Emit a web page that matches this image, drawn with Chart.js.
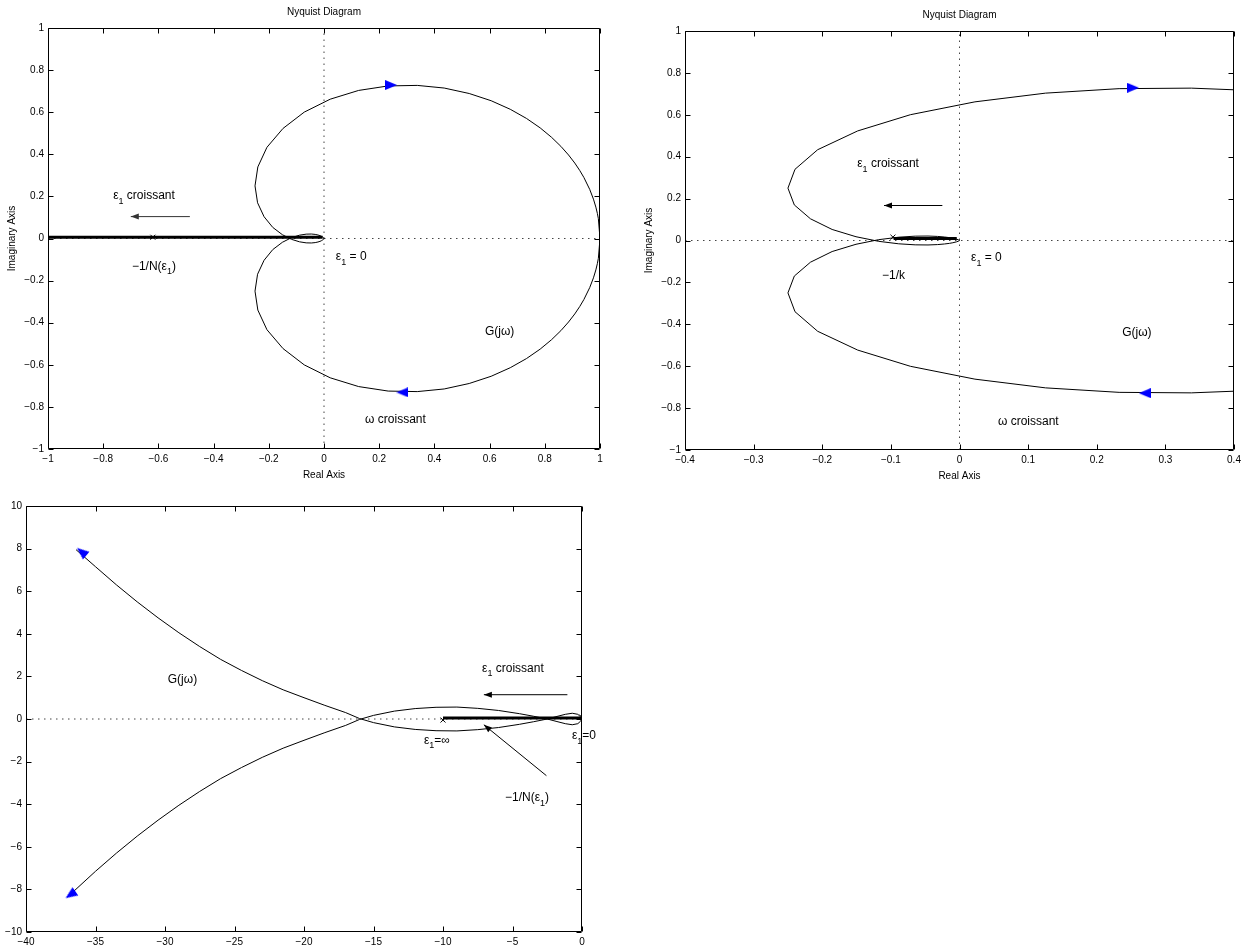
<!DOCTYPE html>
<html><head><meta charset="utf-8">
<script src="https://cdn.jsdelivr.net/npm/chart.js@4"></script>
<style>
html,body{margin:0;padding:0;background:#fff;}
body{width:1249px;height:950px;position:relative;overflow:hidden;}
canvas{position:absolute;}
</style></head><body>
<canvas id="c1" width="625" height="485" style="left:0;top:0;width:625px;height:485px"></canvas>
<canvas id="c2" width="624" height="485" style="left:625px;top:0;width:624px;height:485px"></canvas>
<canvas id="c3" width="625" height="465" style="left:0;top:485px;width:625px;height:465px"></canvas>
<script>
// ---------- DATA ----------
// G(jw) Nyquist curve (plots 1 and 2): real parts, imag parts for w>0 (lower) and w<0 (upper)
const gRe = [1, 0.9940, 0.9905, 0.9850, 0.9763, 0.9627, 0.9415, 0.9268, 0.9086, 0.8860, 0.8583, 0.8244, 0.7833, 0.7337, 0.6749, 0.6057, 0.5261, 0.4355, 0.3379, 0.2326, 0.1254, 0.0225, -0.0715, -0.1484, -0.2067, -0.2397, -0.2500, -0.2407, -0.2172, -0.1856, -0.1508, -0.1177, -0.0886, -0.0646, -0.0459, -0.0319, -0.0218, -0.0146, -0.0097, -0.0042, -0.0017, -0.0003, 0];
const gImLow = [0, -0.0946, -0.1188, -0.1491, -0.1868, -0.2333, -0.2902, -0.3228, -0.3584, -0.3967, -0.4377, -0.4808, -0.5254, -0.5703, -0.6138, -0.6544, -0.6888, -0.7148, -0.7273, -0.7248, -0.7034, -0.6618, -0.6005, -0.5230, -0.4333, -0.3400, -0.2500, -0.1697, -0.1036, -0.0527, -0.0180, 0.0040, 0.0158, 0.0207, 0.0213, 0.0195, 0.0166, 0.0136, 0.0107, 0.0062, 0.0034, 0.0009, 0];
const gImUp = [0, 0.0946, 0.1188, 0.1491, 0.1868, 0.2333, 0.2902, 0.3228, 0.3584, 0.3967, 0.4377, 0.4808, 0.5254, 0.5703, 0.6138, 0.6544, 0.6888, 0.7148, 0.7273, 0.7248, 0.7034, 0.6618, 0.6005, 0.5230, 0.4333, 0.3400, 0.2500, 0.1697, 0.1036, 0.0527, 0.0180, -0.0040, -0.0158, -0.0207, -0.0213, -0.0195, -0.0166, -0.0136, -0.0107, -0.0062, -0.0034, -0.0009, 0];

// -1/N(eps1) locus
const n1X = [-1, -0.005], n1Y = [0.006, 0.006];
const n2X = [-0.096, -0.004], n2Y = [0.009, 0.009];
const n3X = [-10, 0], n3Y = [0.05, 0.05];
// 'x' marks
const m1X = [-0.62], m1Y = [0.006];
const m2X = [-0.097], m2Y = [0.016];
const m3X = [-10, 0], m3Y = [-0.05, 0.08];
// blue direction triangles
const t1X = [0.243, 0.284], t1Y = [0.729, -0.731];
const t2X = [0.253, 0.270], t2Y = [0.729, -0.729];
const t3X = [-36.0, -36.8], t3Y = [7.85, -8.25];

// Plot 3 curve: two branches
const u3X = [-36.4, -35.0, -33.5, -32.0, -30.5, -29.0, -27.5, -26.0, -24.5, -23.0, -21.5, -20.0, -18.5, -17.0, -16.0, -15.0, -13.5, -12.0, -10.5, -9.0, -7.5, -6.0, -4.5, -3.5, -2.5, -1.8, -1.2, -0.7, -0.3, -0.1, 0];
const u3Y = [7.95, 7.15, 6.3, 5.5, 4.75, 4.05, 3.4, 2.8, 2.28, 1.8, 1.37, 1.0, 0.64, 0.3, 0.02, -0.17, -0.37, -0.49, -0.55, -0.56, -0.5, -0.4, -0.25, -0.13, 0.0, 0.12, 0.22, 0.27, 0.22, 0.1, 0];
const l3X = [-37.0, -35.0, -33.5, -32.0, -30.5, -29.0, -27.5, -26.0, -24.5, -23.0, -21.5, -20.0, -18.5, -17.0, -16.0, -15.0, -13.5, -12.0, -10.5, -9.0, -7.5, -6.0, -4.5, -3.5, -2.5, -1.8, -1.2, -0.7, -0.3, -0.1, 0];
const l3Y = [-8.35, -7.15, -6.3, -5.5, -4.75, -4.05, -3.4, -2.8, -2.28, -1.8, -1.37, -1.0, -0.64, -0.3, -0.02, 0.17, 0.37, 0.49, 0.55, 0.56, 0.5, 0.4, 0.25, 0.13, 0.0, -0.12, -0.22, -0.27, -0.22, -0.1, 0];

// tick values and labels
const x1Ticks = [-1, -0.8, -0.6, -0.4, -0.2, 0, 0.2, 0.4, 0.6, 0.8, 1];
const x1Labels = ['\u22121', '\u22120.8', '\u22120.6', '\u22120.4', '\u22120.2', '0', '0.2', '0.4', '0.6', '0.8', '1'];
const y1Ticks = [-1, -0.8, -0.6, -0.4, -0.2, 0, 0.2, 0.4, 0.6, 0.8, 1];
const y1Labels = ['\u22121', '\u22120.8', '\u22120.6', '\u22120.4', '\u22120.2', '0', '0.2', '0.4', '0.6', '0.8', '1'];
const x2Ticks = [-0.4, -0.3, -0.2, -0.1, 0, 0.1, 0.2, 0.3, 0.4];
const x2Labels = ['\u22120.4', '\u22120.3', '\u22120.2', '\u22120.1', '0', '0.1', '0.2', '0.3', '0.4'];
const x3Ticks = [-40, -35, -30, -25, -20, -15, -10, -5, 0];
const x3Labels = ['\u221240', '\u221235', '\u221230', '\u221225', '\u221220', '\u221215', '\u221210', '\u22125', '0'];
const y3Ticks = [-10, -8, -6, -4, -2, 0, 2, 4, 6, 8, 10];
const y3Labels = ['\u221210', '\u22128', '\u22126', '\u22124', '\u22122', '0', '2', '4', '6', '8', '10'];

// ---------- RENDERING ----------
const FONT = '"Liberation Sans", Arial, Helvetica, sans-serif';
Chart.defaults.font.family = FONT;
Chart.defaults.color = '#000';

function pts(xs, ys) { return xs.map((x, i) => ({x: x, y: ys[i]})); }
function lineDs(data, extra) {
  return Object.assign({data: data, showLine: true, pointRadius: 0, borderColor: '#000', borderWidth: 1, fill: false, tension: 0}, extra);
}
function triImg() {
  const c = document.createElement('canvas'); c.width = 12; c.height = 10;
  const g = c.getContext('2d'); g.fillStyle = '#0000ff'; g.beginPath();
  g.moveTo(0, 0); g.lineTo(12, 5); g.lineTo(0, 10); g.closePath(); g.fill();
  return c;
}
const TRI = triImg();
function triDs(x, y, rot) {
  return {data: [{x: x, y: y}], showLine: false, pointStyle: TRI, pointRadius: 6, pointRotation: rot, order: 0};
}
function markDs(xs, ys) {
  return {data: pts(xs, ys), showLine: false, pointStyle: 'crossRot', pointRadius: 3.5, pointBorderWidth: 1, pointBorderColor: '#000', order: 1};
}
function axis(min, max, ticks, labels, size, horiz) {
  return {
    type: 'linear', min: min, max: max,
    grid: {display: false, drawTicks: false, tickLength: 0}, border: {display: false},
    afterBuildTicks: s => { s.ticks = ticks.map(v => ({value: v})); },
    afterFit: s => { if (horiz) s.height = size; else s.width = size; },
    ticks: {autoSkip: false, maxRotation: 0, minRotation: 0, padding: 4, font: {size: 10}, color: '#000',
      callback: (v, i) => labels[i]}
  };
}
function rich(ctx, x, y, parts, size) {
  let cx = x;
  for (const p of parts) {
    const sub = p[1];
    ctx.font = (sub ? Math.round(size * 0.75) : size) + 'px ' + FONT;
    ctx.textBaseline = 'middle'; ctx.textAlign = 'left';
    ctx.fillText(p[0], cx, y + (sub ? size * 0.42 : 0));
    cx += ctx.measureText(p[0]).width;
  }
}
function arrow(ctx, x1, y1, x2, y2) {
  ctx.beginPath(); ctx.moveTo(x1, y1); ctx.lineTo(x2, y2); ctx.stroke();
  const a = Math.atan2(y2 - y1, x2 - x1), L = 8, W = 3;
  ctx.beginPath(); ctx.moveTo(x2, y2);
  ctx.lineTo(x2 - L * Math.cos(a) + W * Math.sin(a), y2 - L * Math.sin(a) - W * Math.cos(a));
  ctx.lineTo(x2 - L * Math.cos(a) - W * Math.sin(a), y2 - L * Math.sin(a) + W * Math.cos(a));
  ctx.closePath(); ctx.fill();
}
function deco(cfg) {
  return {
    id: 'deco',
    afterDraw(chart) {
      const ctx = chart.ctx, a = chart.chartArea, xs = chart.scales.x, ys = chart.scales.y;
      ctx.save();
      ctx.strokeStyle = '#000'; ctx.fillStyle = '#000'; ctx.lineWidth = 1;
      const L = Math.round(a.left) + 0.5, R = Math.round(a.right) - 0.5, T = Math.round(a.top) + 0.5, B = Math.round(a.bottom) - 0.5;
      ctx.beginPath(); ctx.rect(L, T, R - L, B - T); ctx.stroke();
      ctx.beginPath();
      xs.ticks.forEach(t => { const px = Math.round(xs.getPixelForValue(t.value)) + 0.5;
        ctx.moveTo(px, B); ctx.lineTo(px, B - 5); ctx.moveTo(px, T); ctx.lineTo(px, T + 5); });
      ys.ticks.forEach(t => { const py = Math.round(ys.getPixelForValue(t.value)) + 0.5;
        ctx.moveTo(L, py); ctx.lineTo(L + 5, py); ctx.moveTo(R, py); ctx.lineTo(R - 5, py); });
      ctx.stroke();
      ctx.font = '10px ' + FONT; ctx.textAlign = 'center'; ctx.textBaseline = 'middle';
      const cx = (a.left + a.right) / 2, cy = (a.top + a.bottom) / 2;
      if (cfg.title) ctx.fillText(cfg.title, cx, a.top - 16);
      if (cfg.xlabel) ctx.fillText(cfg.xlabel, cx, a.bottom + 26);
      if (cfg.ylabel) { ctx.save(); ctx.translate(a.left - 36, cy); ctx.rotate(-Math.PI / 2); ctx.fillText(cfg.ylabel, 0, 0); ctx.restore(); }
      (cfg.arrows || []).forEach(r => {
        ctx.strokeStyle = r[4] || '#000'; ctx.fillStyle = r[4] || '#000';
        arrow(ctx, xs.getPixelForValue(r[0]), ys.getPixelForValue(r[1]), xs.getPixelForValue(r[2]), ys.getPixelForValue(r[3]));
      });
      ctx.fillStyle = '#000';
      (cfg.texts || []).forEach(t => rich(ctx, xs.getPixelForValue(t.x), ys.getPixelForValue(t.y), t.parts, 12));
      ctx.restore();
    }
  };
}
function makeChart(id, datasets, scales, padding, cfg) {
  return new Chart(document.getElementById(id), {
    type: 'scatter',
    data: {datasets: datasets},
    options: {
      responsive: false, animation: false, devicePixelRatio: 1,
      layout: {padding: padding},
      plugins: {legend: {display: false}, tooltip: {enabled: false}, title: {display: false}},
      scales: scales,
      elements: {point: {hoverRadius: 0}}
    },
    plugins: [deco(cfg)]
  });
}
const dotted = {borderColor: '#444', borderWidth: 1, borderDash: [1.5, 4.5], order: 5};

// Plot 1
makeChart('c1', [
  triDs(t1X[0], t1Y[0], 0), triDs(t1X[1], t1Y[1], 180),
  markDs(m1X, m1Y),
  lineDs(pts(n1X, n1Y), {borderWidth: 3, order: 2}),
  lineDs(pts(gRe, gImLow), {order: 3}),
  lineDs(pts(gRe, gImUp), {order: 3}),
  lineDs(pts([-1, 1], [0, 0]), dotted),
  lineDs(pts([0, 0], [-1, 1]), dotted)
], {
  x: axis(-1, 1, x1Ticks, x1Labels, 30, true),
  y: axis(-1, 1, y1Ticks, y1Labels, 48, false)
}, {left: 0, top: 28, right: 25, bottom: 6}, {
  title: 'Nyquist Diagram', xlabel: 'Real Axis', ylabel: 'Imaginary Axis',
  arrows: [[-0.486, 0.104, -0.70, 0.104, '#333']],
  texts: [
    {x: -0.764, y: 0.202, parts: [['\u03b5'], ['1', 1], [' croissant']]},
    {x: -0.696, y: -0.135, parts: [['\u22121/N(\u03b5'], ['1', 1], [')']]},
    {x: 0.043, y: -0.088, parts: [['\u03b5'], ['1', 1], [' = 0']]},
    {x: 0.583, y: -0.444, parts: [['G(j\u03c9)']]},
    {x: 0.149, y: -0.862, parts: [['\u03c9 croissant']]}
  ]
});

// Plot 2
makeChart('c2', [
  triDs(t2X[0], t2Y[0], 0), triDs(t2X[1], t2Y[1], 180),
  markDs(m2X, m2Y),
  lineDs(pts(n2X, n2Y), {borderWidth: 3, order: 2}),
  lineDs(pts(gRe, gImLow), {order: 3}),
  lineDs(pts(gRe, gImUp), {order: 3}),
  lineDs(pts([-0.4, 0.4], [0, 0]), dotted),
  lineDs(pts([0, 0], [-1, 1]), dotted)
], {
  x: axis(-0.4, 0.4, x2Ticks, x2Labels, 30, true),
  y: axis(-1, 1, y1Ticks, y1Labels, 60, false)
}, {left: 0, top: 31, right: 15, bottom: 5}, {
  title: 'Nyquist Diagram', xlabel: 'Real Axis', ylabel: 'Imaginary Axis',
  arrows: [[-0.025, 0.167, -0.110, 0.167]],
  texts: [
    {x: -0.149, y: 0.365, parts: [['\u03b5'], ['1', 1], [' croissant']]},
    {x: -0.113, y: -0.169, parts: [['\u22121/k']]},
    {x: 0.0168, y: -0.0835, parts: [['\u03b5'], ['1', 1], [' = 0']]},
    {x: 0.237, y: -0.441, parts: [['G(j\u03c9)']]},
    {x: 0.056, y: -0.866, parts: [['\u03c9 croissant']]}
  ]
});

// Plot 3
makeChart('c3', [
  triDs(t3X[0], t3Y[0], -140), triDs(t3X[1], t3Y[1], 145),
  markDs(m3X, m3Y),
  lineDs(pts(n3X, n3Y), {borderWidth: 3, order: 2}),
  lineDs(pts(u3X, u3Y), {order: 3}),
  lineDs(pts(l3X, l3Y), {order: 3}),
  lineDs(pts([-40, 0], [0, 0]), dotted)
], {
  x: axis(-40, 0, x3Ticks, x3Labels, 18, true),
  y: axis(-10, 10, y3Ticks, y3Labels, 26, false)
}, {left: 0, top: 21, right: 43, bottom: 0}, {
  arrows: [[-1.05, 1.14, -7.06, 1.14], [-2.56, -2.66, -7.06, -0.27]],
  texts: [
    {x: -29.8, y: 1.83, parts: [['G(j\u03c9)']]},
    {x: -7.19, y: 2.35, parts: [['\u03b5'], ['1', 1], [' croissant']]},
    {x: -11.37, y: -1.03, parts: [['\u03b5'], ['1', 1], ['=\u221e']]},
    {x: -0.72, y: -0.80, parts: [['\u03b5'], ['1', 1], ['=0']]},
    {x: -5.54, y: -3.71, parts: [['\u22121/N(\u03b5'], ['1', 1], [')']]}
  ]
});
</script>
</body></html>
